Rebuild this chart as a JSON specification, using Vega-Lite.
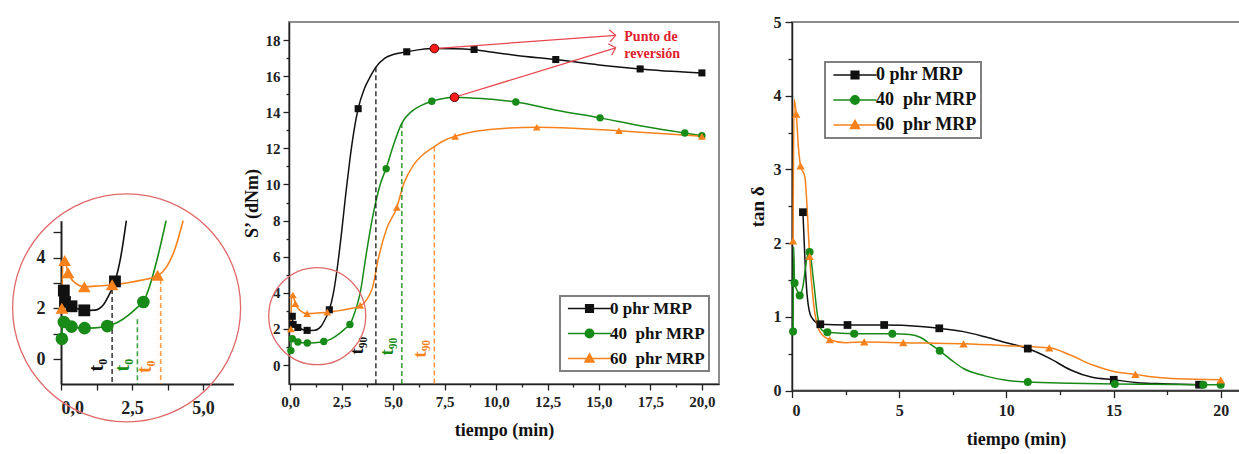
{
  "$schema": "https://vega.github.io/schema/vega-lite/v6.json",
  "background": "white",
  "padding": {"left": 10, "top": 13, "right": 0, "bottom": 0},
  "datasets": {
    "S": [
      {"t":0.03,"s":2.9,"serie":"0 phr MRP"},{"t":0.1,"s":2.7,"serie":"0 phr MRP"},{"t":0.14,"s":2.25,"serie":"0 phr MRP"},{"t":0.37,"s":2.08,"serie":"0 phr MRP"},{"t":0.6,"s":1.97,"serie":"0 phr MRP"},{"t":0.82,"s":1.92,"serie":"0 phr MRP"},{"t":1.2,"s":1.93,"serie":"0 phr MRP"},{"t":1.5,"s":2.15,"serie":"0 phr MRP"},{"t":1.7,"s":2.55,"serie":"0 phr MRP"},{"t":1.9,"s":3.06,"serie":"0 phr MRP"},{"t":2.1,"s":4.0,"serie":"0 phr MRP"},{"t":2.3,"s":5.5,"serie":"0 phr MRP"},{"t":2.5,"s":7.4,"serie":"0 phr MRP"},{"t":2.7,"s":9.5,"serie":"0 phr MRP"},{"t":2.9,"s":11.4,"serie":"0 phr MRP"},{"t":3.1,"s":13.0,"serie":"0 phr MRP"},{"t":3.3,"s":14.2,"serie":"0 phr MRP"},{"t":3.6,"s":15.3,"serie":"0 phr MRP"},{"t":3.9,"s":16.0,"serie":"0 phr MRP"},{"t":4.16,"s":16.5,"serie":"0 phr MRP"},{"t":4.6,"s":17.0,"serie":"0 phr MRP"},{"t":5.0,"s":17.2,"serie":"0 phr MRP"},{"t":5.66,"s":17.35,"serie":"0 phr MRP"},{"t":6.3,"s":17.47,"serie":"0 phr MRP"},{"t":7.0,"s":17.53,"serie":"0 phr MRP"},{"t":8.0,"s":17.52,"serie":"0 phr MRP"},{"t":8.93,"s":17.46,"serie":"0 phr MRP"},{"t":10,"s":17.3,"serie":"0 phr MRP"},{"t":11,"s":17.15,"serie":"0 phr MRP"},{"t":12.9,"s":16.92,"serie":"0 phr MRP"},{"t":15,"s":16.62,"serie":"0 phr MRP"},{"t":17,"s":16.4,"serie":"0 phr MRP"},{"t":18.5,"s":16.27,"serie":"0 phr MRP"},{"t":20,"s":16.18,"serie":"0 phr MRP"},
      {"t":0.03,"s":0.8,"serie":"40\u00a0 phr MRP"},{"t":0.06,"s":1.6,"serie":"40\u00a0 phr MRP"},{"t":0.1,"s":1.46,"serie":"40\u00a0 phr MRP"},{"t":0.37,"s":1.28,"serie":"40\u00a0 phr MRP"},{"t":0.6,"s":1.23,"serie":"40\u00a0 phr MRP"},{"t":0.83,"s":1.22,"serie":"40\u00a0 phr MRP"},{"t":1.2,"s":1.23,"serie":"40\u00a0 phr MRP"},{"t":1.63,"s":1.3,"serie":"40\u00a0 phr MRP"},{"t":2.0,"s":1.45,"serie":"40\u00a0 phr MRP"},{"t":2.4,"s":1.75,"serie":"40\u00a0 phr MRP"},{"t":2.7,"s":2.05,"serie":"40\u00a0 phr MRP"},{"t":2.9,"s":2.25,"serie":"40\u00a0 phr MRP"},{"t":3.1,"s":2.8,"serie":"40\u00a0 phr MRP"},{"t":3.4,"s":4.0,"serie":"40\u00a0 phr MRP"},{"t":3.7,"s":6.2,"serie":"40\u00a0 phr MRP"},{"t":3.97,"s":8.0,"serie":"40\u00a0 phr MRP"},{"t":4.37,"s":10.0,"serie":"40\u00a0 phr MRP"},{"t":4.66,"s":10.9,"serie":"40\u00a0 phr MRP"},{"t":5.02,"s":12.2,"serie":"40\u00a0 phr MRP"},{"t":5.42,"s":13.4,"serie":"40\u00a0 phr MRP"},{"t":5.9,"s":14.05,"serie":"40\u00a0 phr MRP"},{"t":6.4,"s":14.4,"serie":"40\u00a0 phr MRP"},{"t":6.88,"s":14.61,"serie":"40\u00a0 phr MRP"},{"t":7.5,"s":14.78,"serie":"40\u00a0 phr MRP"},{"t":7.98,"s":14.83,"serie":"40\u00a0 phr MRP"},{"t":9,"s":14.78,"serie":"40\u00a0 phr MRP"},{"t":10,"s":14.7,"serie":"40\u00a0 phr MRP"},{"t":10.96,"s":14.57,"serie":"40\u00a0 phr MRP"},{"t":13,"s":14.1,"serie":"40\u00a0 phr MRP"},{"t":15.05,"s":13.69,"serie":"40\u00a0 phr MRP"},{"t":17,"s":13.25,"serie":"40\u00a0 phr MRP"},{"t":19.17,"s":12.85,"serie":"40\u00a0 phr MRP"},{"t":20,"s":12.7,"serie":"40\u00a0 phr MRP"},
      {"t":0.03,"s":2.0,"serie":"60\u00a0 phr MRP"},{"t":0.07,"s":3.9,"serie":"60\u00a0 phr MRP"},{"t":0.13,"s":3.88,"serie":"60\u00a0 phr MRP"},{"t":0.25,"s":3.4,"serie":"60\u00a0 phr MRP"},{"t":0.5,"s":3.0,"serie":"60\u00a0 phr MRP"},{"t":0.82,"s":2.85,"serie":"60\u00a0 phr MRP"},{"t":1.3,"s":2.88,"serie":"60\u00a0 phr MRP"},{"t":1.8,"s":2.93,"serie":"60\u00a0 phr MRP"},{"t":2.3,"s":3.0,"serie":"60\u00a0 phr MRP"},{"t":2.8,"s":3.1,"serie":"60\u00a0 phr MRP"},{"t":3.4,"s":3.28,"serie":"60\u00a0 phr MRP"},{"t":3.7,"s":3.6,"serie":"60\u00a0 phr MRP"},{"t":4.0,"s":4.3,"serie":"60\u00a0 phr MRP"},{"t":4.3,"s":6.0,"serie":"60\u00a0 phr MRP"},{"t":4.7,"s":7.6,"serie":"60\u00a0 phr MRP"},{"t":5.18,"s":8.73,"serie":"60\u00a0 phr MRP"},{"t":5.5,"s":10.0,"serie":"60\u00a0 phr MRP"},{"t":6.0,"s":11.1,"serie":"60\u00a0 phr MRP"},{"t":6.5,"s":11.7,"serie":"60\u00a0 phr MRP"},{"t":7.0,"s":12.1,"serie":"60\u00a0 phr MRP"},{"t":7.5,"s":12.45,"serie":"60\u00a0 phr MRP"},{"t":8.01,"s":12.67,"serie":"60\u00a0 phr MRP"},{"t":9,"s":12.95,"serie":"60\u00a0 phr MRP"},{"t":10,"s":13.08,"serie":"60\u00a0 phr MRP"},{"t":11.98,"s":13.17,"serie":"60\u00a0 phr MRP"},{"t":14,"s":13.1,"serie":"60\u00a0 phr MRP"},{"t":15.97,"s":12.98,"serie":"60\u00a0 phr MRP"},{"t":18,"s":12.82,"serie":"60\u00a0 phr MRP"},{"t":20,"s":12.67,"serie":"60\u00a0 phr MRP"}
    ],
    "Sm": [
      {"t":0.1,"s":2.7,"serie":"0 phr MRP"},{"t":0.14,"s":2.25,"serie":"0 phr MRP"},{"t":0.37,"s":2.08,"serie":"0 phr MRP"},{"t":0.82,"s":1.92,"serie":"0 phr MRP"},{"t":1.9,"s":3.06,"serie":"0 phr MRP"},{"t":3.3,"s":14.2,"serie":"0 phr MRP"},{"t":5.66,"s":17.35,"serie":"0 phr MRP"},{"t":8.93,"s":17.48,"serie":"0 phr MRP"},{"t":12.9,"s":16.92,"serie":"0 phr MRP"},{"t":17,"s":16.4,"serie":"0 phr MRP"},{"t":20,"s":16.18,"serie":"0 phr MRP"},
      {"t":0.03,"s":0.8,"serie":"40\u00a0 phr MRP"},{"t":0.1,"s":1.46,"serie":"40\u00a0 phr MRP"},{"t":0.37,"s":1.28,"serie":"40\u00a0 phr MRP"},{"t":0.83,"s":1.22,"serie":"40\u00a0 phr MRP"},{"t":1.63,"s":1.3,"serie":"40\u00a0 phr MRP"},{"t":2.9,"s":2.25,"serie":"40\u00a0 phr MRP"},{"t":4.66,"s":10.87,"serie":"40\u00a0 phr MRP"},{"t":6.88,"s":14.61,"serie":"40\u00a0 phr MRP"},{"t":10.96,"s":14.57,"serie":"40\u00a0 phr MRP"},{"t":15.05,"s":13.69,"serie":"40\u00a0 phr MRP"},{"t":19.17,"s":12.85,"serie":"40\u00a0 phr MRP"},{"t":20,"s":12.7,"serie":"40\u00a0 phr MRP"},
      {"t":0.03,"s":2.0,"serie":"60\u00a0 phr MRP"},{"t":0.13,"s":3.88,"serie":"60\u00a0 phr MRP"},{"t":0.25,"s":3.4,"serie":"60\u00a0 phr MRP"},{"t":0.82,"s":2.85,"serie":"60\u00a0 phr MRP"},{"t":1.8,"s":2.93,"serie":"60\u00a0 phr MRP"},{"t":3.4,"s":3.3,"serie":"60\u00a0 phr MRP"},{"t":5.18,"s":8.73,"serie":"60\u00a0 phr MRP"},{"t":8.01,"s":12.67,"serie":"60\u00a0 phr MRP"},{"t":11.98,"s":13.17,"serie":"60\u00a0 phr MRP"},{"t":15.97,"s":12.98,"serie":"60\u00a0 phr MRP"},{"t":20,"s":12.67,"serie":"60\u00a0 phr MRP"}
    ],
    "rev": [{"t":7.0,"s":17.53},{"t":7.98,"s":14.83}],
    "arrows": [{"t":15.81,"s":18.26,"t2":7.0,"s2":17.53},{"t":15.81,"s":17.57,"t2":7.98,"s2":14.83}],
    "notes": [{"t":16.23,"s":17.94,"txt":"Punto de"},{"t":16.23,"s":16.98,"txt":"reversión"}],
    "t90": [{"t":4.16,"s":16.5,"serie":"0 phr MRP"},{"t":5.42,"s":13.4,"serie":"40\u00a0 phr MRP"},{"t":7.0,"s":12.1,"serie":"60\u00a0 phr MRP"}],
    "t90lab": [{"t":3.24,"s":1.07,"txt":"t₉₀","serie":"0 phr MRP"},{"t":4.69,"s":1.02,"txt":"t₉₀","serie":"40\u00a0 phr MRP"},{"t":6.3,"s":0.9,"txt":"t₉₀","serie":"60\u00a0 phr MRP"}],
    "t0": [{"t":1.8,"s":3.08,"serie":"0 phr MRP"},{"t":2.69,"s":1.57,"serie":"40\u00a0 phr MRP"},{"t":3.51,"s":3.15,"serie":"60\u00a0 phr MRP"}],
    "t0lab": [{"t":1.25,"s":-0.24,"txt":"t₀","serie":"0 phr MRP"},{"t":2.19,"s":-0.24,"txt":"t₀","serie":"40\u00a0 phr MRP"},{"t":2.97,"s":-0.3,"txt":"t₀","serie":"60\u00a0 phr MRP"}],
    "D": [
      {"t":0.51,"v":2.42,"serie":"0 phr MRP"},{"t":0.6,"v":1.8,"serie":"0 phr MRP"},{"t":0.72,"v":1.25,"serie":"0 phr MRP"},{"t":0.9,"v":1.0,"serie":"0 phr MRP"},{"t":1.32,"v":0.9,"serie":"0 phr MRP"},{"t":2.59,"v":0.89,"serie":"0 phr MRP"},{"t":4.3,"v":0.89,"serie":"0 phr MRP"},{"t":6.0,"v":0.87,"serie":"0 phr MRP"},{"t":6.87,"v":0.845,"serie":"0 phr MRP"},{"t":8,"v":0.8,"serie":"0 phr MRP"},{"t":9,"v":0.73,"serie":"0 phr MRP"},{"t":10,"v":0.65,"serie":"0 phr MRP"},{"t":11,"v":0.57,"serie":"0 phr MRP"},{"t":12,"v":0.44,"serie":"0 phr MRP"},{"t":13,"v":0.28,"serie":"0 phr MRP"},{"t":14,"v":0.18,"serie":"0 phr MRP"},{"t":15.01,"v":0.147,"serie":"0 phr MRP"},{"t":16,"v":0.11,"serie":"0 phr MRP"},{"t":17,"v":0.095,"serie":"0 phr MRP"},{"t":19,"v":0.08,"serie":"0 phr MRP"},{"t":19.2,"v":0.08,"serie":"0 phr MRP"},
      {"t":0.05,"v":0.8,"serie":"40\u00a0 phr MRP"},{"t":0.08,"v":1.95,"serie":"40\u00a0 phr MRP"},{"t":0.12,"v":1.46,"serie":"40\u00a0 phr MRP"},{"t":0.25,"v":1.35,"serie":"40\u00a0 phr MRP"},{"t":0.36,"v":1.29,"serie":"40\u00a0 phr MRP"},{"t":0.5,"v":1.4,"serie":"40\u00a0 phr MRP"},{"t":0.7,"v":1.8,"serie":"40\u00a0 phr MRP"},{"t":0.82,"v":1.88,"serie":"40\u00a0 phr MRP"},{"t":1.0,"v":1.5,"serie":"40\u00a0 phr MRP"},{"t":1.2,"v":1.0,"serie":"40\u00a0 phr MRP"},{"t":1.4,"v":0.82,"serie":"40\u00a0 phr MRP"},{"t":1.65,"v":0.79,"serie":"40\u00a0 phr MRP"},{"t":2.9,"v":0.77,"serie":"40\u00a0 phr MRP"},{"t":4.68,"v":0.77,"serie":"40\u00a0 phr MRP"},{"t":5.5,"v":0.76,"serie":"40\u00a0 phr MRP"},{"t":6.0,"v":0.72,"serie":"40\u00a0 phr MRP"},{"t":6.5,"v":0.62,"serie":"40\u00a0 phr MRP"},{"t":6.89,"v":0.54,"serie":"40\u00a0 phr MRP"},{"t":7.5,"v":0.4,"serie":"40\u00a0 phr MRP"},{"t":8,"v":0.3,"serie":"40\u00a0 phr MRP"},{"t":9,"v":0.2,"serie":"40\u00a0 phr MRP"},{"t":10,"v":0.14,"serie":"40\u00a0 phr MRP"},{"t":11,"v":0.115,"serie":"40\u00a0 phr MRP"},{"t":13,"v":0.1,"serie":"40\u00a0 phr MRP"},{"t":15.06,"v":0.09,"serie":"40\u00a0 phr MRP"},{"t":19.19,"v":0.08,"serie":"40\u00a0 phr MRP"},{"t":20,"v":0.08,"serie":"40\u00a0 phr MRP"},
      {"t":0.05,"v":2.03,"serie":"60\u00a0 phr MRP"},{"t":0.1,"v":3.95,"serie":"60\u00a0 phr MRP"},{"t":0.2,"v":3.75,"serie":"60\u00a0 phr MRP"},{"t":0.3,"v":3.3,"serie":"60\u00a0 phr MRP"},{"t":0.4,"v":3.05,"serie":"60\u00a0 phr MRP"},{"t":0.6,"v":2.9,"serie":"60\u00a0 phr MRP"},{"t":0.72,"v":2.4,"serie":"60\u00a0 phr MRP"},{"t":0.82,"v":1.82,"serie":"60\u00a0 phr MRP"},{"t":1.0,"v":1.2,"serie":"60\u00a0 phr MRP"},{"t":1.3,"v":0.8,"serie":"60\u00a0 phr MRP"},{"t":1.76,"v":0.69,"serie":"60\u00a0 phr MRP"},{"t":2.5,"v":0.65,"serie":"60\u00a0 phr MRP"},{"t":3.37,"v":0.66,"serie":"60\u00a0 phr MRP"},{"t":5.19,"v":0.65,"serie":"60\u00a0 phr MRP"},{"t":8.0,"v":0.635,"serie":"60\u00a0 phr MRP"},{"t":10,"v":0.61,"serie":"60\u00a0 phr MRP"},{"t":12,"v":0.58,"serie":"60\u00a0 phr MRP"},{"t":13,"v":0.48,"serie":"60\u00a0 phr MRP"},{"t":14,"v":0.35,"serie":"60\u00a0 phr MRP"},{"t":15,"v":0.26,"serie":"60\u00a0 phr MRP"},{"t":16.02,"v":0.22,"serie":"60\u00a0 phr MRP"},{"t":17,"v":0.18,"serie":"60\u00a0 phr MRP"},{"t":18,"v":0.16,"serie":"60\u00a0 phr MRP"},{"t":20,"v":0.147,"serie":"60\u00a0 phr MRP"}
    ],
    "Dm": [
      {"t":0.51,"v":2.42,"serie":"0 phr MRP"},{"t":1.32,"v":0.9,"serie":"0 phr MRP"},{"t":2.59,"v":0.89,"serie":"0 phr MRP"},{"t":4.3,"v":0.89,"serie":"0 phr MRP"},{"t":6.87,"v":0.845,"serie":"0 phr MRP"},{"t":11,"v":0.57,"serie":"0 phr MRP"},{"t":15.01,"v":0.147,"serie":"0 phr MRP"},{"t":18.99,"v":0.08,"serie":"0 phr MRP"},
      {"t":0.05,"v":0.8,"serie":"40\u00a0 phr MRP"},{"t":0.12,"v":1.46,"serie":"40\u00a0 phr MRP"},{"t":0.36,"v":1.29,"serie":"40\u00a0 phr MRP"},{"t":0.82,"v":1.88,"serie":"40\u00a0 phr MRP"},{"t":1.65,"v":0.79,"serie":"40\u00a0 phr MRP"},{"t":2.9,"v":0.77,"serie":"40\u00a0 phr MRP"},{"t":4.68,"v":0.77,"serie":"40\u00a0 phr MRP"},{"t":6.89,"v":0.54,"serie":"40\u00a0 phr MRP"},{"t":11,"v":0.115,"serie":"40\u00a0 phr MRP"},{"t":15.06,"v":0.09,"serie":"40\u00a0 phr MRP"},{"t":19.19,"v":0.08,"serie":"40\u00a0 phr MRP"},{"t":20,"v":0.08,"serie":"40\u00a0 phr MRP"},
      {"t":0.05,"v":2.03,"serie":"60\u00a0 phr MRP"},{"t":0.2,"v":3.75,"serie":"60\u00a0 phr MRP"},{"t":0.4,"v":3.05,"serie":"60\u00a0 phr MRP"},{"t":0.82,"v":1.82,"serie":"60\u00a0 phr MRP"},{"t":1.76,"v":0.69,"serie":"60\u00a0 phr MRP"},{"t":3.37,"v":0.66,"serie":"60\u00a0 phr MRP"},{"t":5.19,"v":0.65,"serie":"60\u00a0 phr MRP"},{"t":8,"v":0.635,"serie":"60\u00a0 phr MRP"},{"t":12,"v":0.58,"serie":"60\u00a0 phr MRP"},{"t":16.02,"v":0.22,"serie":"60\u00a0 phr MRP"},{"t":20,"v":0.147,"serie":"60\u00a0 phr MRP"}
    ]
  },
  "hconcat": [
    {
      "width": 154.7, "height": 362, "view": {"stroke": null},
      "encoding": {
        "x": {"field": "t", "type": "quantitative", "scale": {"domain": [0, 6.07], "range": [0, 172.4], "nice": false, "zero": false},
          "axis": {"title": null, "values": [0, 1.25, 2.5, 3.75, 5], "labelExpr": "datum.value % 2.5 === 0 ? replace(format(datum.value, '.1f'), '.', ',') : ''", "tickSize": 6, "labelFontSize": 18, "labelPadding": 9, "domainWidth": 2}},
        "y": {"field": "s", "type": "quantitative", "scale": {"domain": [-0.98, 5.45], "range": [362, 198.7], "clamp": true, "nice": false, "zero": false},
          "axis": {"title": null, "values": [0, 1, 2, 3, 4, 5], "labelExpr": "datum.value % 2 === 0 ? format(datum.value, 'd') : ''", "tickSize": 8, "labelFontSize": 18, "labelPadding": 8, "domainWidth": 2}}
      },
      "layer": [
        {"data": {"name": "S"}, "transform": [{"filter": "datum.s <= 6.5 && datum.t <= 6"}], "mark": {"type": "line", "interpolate": "monotone", "strokeWidth": 1.6},
          "encoding": {"color": {"field": "serie", "type": "nominal", "scale": {"domain": ["0 phr MRP", "40\u00a0 phr MRP", "60\u00a0 phr MRP"], "range": ["#111111", "#178a17", "#f7821b"]}, "legend": null}}},
        {"data": {"name": "t0"}, "mark": {"type": "rule", "strokeDash": [5, 3], "strokeWidth": 1.6, "opacity": 0.8},
          "encoding": {"y2": {"datum": -0.98}, "color": {"field": "serie", "type": "nominal", "legend": null}}},
        {"data": {"name": "Sm"}, "transform": [{"filter": "datum.s <= 5.5 && datum.t <= 6 && datum.serie == '0 phr MRP'"}], "mark": {"type": "square", "size": 140, "color": "#111111", "opacity": 1}},
        {"data": {"name": "Sm"}, "transform": [{"filter": "datum.s <= 5.5 && datum.t <= 6 && datum.serie == '40\u00a0 phr MRP'"}], "mark": {"type": "circle", "size": 160, "color": "#178a17", "opacity": 1}},
        {"data": {"name": "Sm"}, "transform": [{"filter": "datum.s <= 5.5 && datum.t <= 6 && datum.serie == '60\u00a0 phr MRP'"}], "mark": {"type": "point", "shape": "triangle-up", "filled": true, "size": 160, "color": "#f7821b", "opacity": 1}},
        {"data": {"name": "t0lab"}, "mark": {"type": "text", "angle": 270, "font": "Liberation Serif", "fontWeight": "bold", "fontSize": 20, "align": "center", "baseline": "middle"},
          "encoding": {"text": {"field": "txt"}, "color": {"field": "serie", "type": "nominal", "legend": null}}},
        {"data": {"values": [{"t": 2.31, "s": 2.02}]}, "mark": {"type": "point", "shape": "circle", "filled": false, "stroke": "#e06a6a", "strokeWidth": 1.3, "size": 51984, "opacity": 1}}
      ]
    },
    {
      "width": 430, "height": 362,
      "encoding": {
        "x": {"field": "t", "type": "quantitative", "scale": {"domain": [-0.06, 20.83], "nice": false, "zero": false},
          "axis": {"title": "tiempo (min)", "values": [0, 1.25, 2.5, 3.75, 5, 6.25, 7.5, 8.75, 10, 11.25, 12.5, 13.75, 15, 16.25, 17.5, 18.75, 20], "labelExpr": "datum.value % 2.5 === 0 ? replace(format(datum.value, '.1f'), '.', ',') : ''", "tickSize": {"condition": {"test": "datum.value % 2.5 !== 0", "value": 3}, "value": 6}, "labelFontSize": 15, "labelPadding": 4, "titleFontSize": 18, "titlePadding": 12}},
        "y": {"field": "s", "type": "quantitative", "scale": {"domain": [-1.05, 19], "nice": false, "zero": false},
          "axis": {"title": "S’ (dNm)", "values": [0, 1, 2, 3, 4, 5, 6, 7, 8, 9, 10, 11, 12, 13, 14, 15, 16, 17, 18], "labelExpr": "datum.value % 2 === 0 ? format(datum.value, 'd') : ''", "tickSize": {"condition": {"test": "datum.value % 2 !== 0", "value": 3}, "value": 6}, "labelFontSize": 15, "labelPadding": 3, "titleFontSize": 18, "titlePadding": 4}}
      },
      "layer": [
        {"data": {"name": "S"}, "mark": {"type": "line", "interpolate": "monotone", "strokeWidth": 1.5},
          "encoding": {"color": {"field": "serie", "type": "nominal", "scale": {"domain": ["0 phr MRP", "40\u00a0 phr MRP", "60\u00a0 phr MRP"], "range": ["#111111", "#178a17", "#f7821b"]},
            "legend": {"title": null, "orient": "none", "legendX": 271, "legendY": 274, "direction": "vertical", "padding": 4, "strokeColor": "#808080", "fillColor": "white",
              "labelFont": "Liberation Serif", "labelFontWeight": "bold", "labelFontSize": 17, "labelColor": "#111111", "labelLimit": 400,
              "symbolSize": 81, "symbolStrokeWidth": 1.5, "symbolOffset": 17, "labelOffset": 12, "rowPadding": 7,
              "encoding": {
                "symbols": {
                  "shape": {"condition": [{"test": "datum.value == '40\u00a0 phr MRP'", "value": "M-4.8,0H4.8M0.95,0A0.95,0.95 0 1,1 -0.95,0A0.95,0.95 0 1,1 0.95,0Z"}, {"test": "datum.value == '60\u00a0 phr MRP'", "value": "M-4.8,0H4.8M0,-1.05L1,0.75H-1Z"}], "value": "M-4.8,0H4.8M-0.85,-0.85H0.85V0.85H-0.85Z"},
                  "fill": {"condition": [{"test": "datum.value == '40\u00a0 phr MRP'", "value": "#178a17"}, {"test": "datum.value == '60\u00a0 phr MRP'", "value": "#f7821b"}], "value": "#111111"},
                  "stroke": {"condition": [{"test": "datum.value == '40\u00a0 phr MRP'", "value": "#178a17"}, {"test": "datum.value == '60\u00a0 phr MRP'", "value": "#f7821b"}], "value": "#111111"}
                },
                "legend": {"strokeWidth": {"value": 2}}
              }}}}},
        {"data": {"name": "t90"}, "mark": {"type": "rule", "strokeDash": [5, 3], "strokeWidth": 1.6, "opacity": 0.8},
          "encoding": {"y2": {"datum": -1.05}, "color": {"field": "serie", "type": "nominal", "legend": null}}},
        {"data": {"name": "Sm"}, "transform": [{"filter": "datum.serie == '0 phr MRP'"}], "mark": {"type": "square", "size": 50, "color": "#111111", "opacity": 1}},
        {"data": {"name": "Sm"}, "transform": [{"filter": "datum.serie == '40\u00a0 phr MRP'"}], "mark": {"type": "circle", "size": 55, "color": "#178a17", "opacity": 1}},
        {"data": {"name": "Sm"}, "transform": [{"filter": "datum.serie == '60\u00a0 phr MRP'"}], "mark": {"type": "point", "shape": "triangle-up", "filled": true, "size": 60, "color": "#f7821b", "opacity": 1}},
        {"data": {"name": "arrows"}, "mark": {"type": "rule", "color": "#e8474f", "strokeWidth": 1.2},
          "encoding": {"x2": {"field": "t2"}, "y2": {"field": "s2"}}},
        {"data": {"name": "arrows"}, "transform": [{"filter": "datum.s > 18"}], "mark": {"type": "point", "shape": "M-1,-1L0,0L-1,1", "filled": false, "stroke": "#e8474f", "strokeWidth": 1.2, "size": 144, "angle": 356, "opacity": 1}},
        {"data": {"name": "arrows"}, "transform": [{"filter": "datum.s < 18"}], "mark": {"type": "point", "shape": "M-1,-1L0,0L-1,1", "filled": false, "stroke": "#e8474f", "strokeWidth": 1.2, "size": 144, "angle": 343, "opacity": 1}},
        {"data": {"name": "rev"}, "mark": {"type": "point", "shape": "circle", "filled": true, "fill": "#ff1a1a", "stroke": "#5a0000", "strokeWidth": 1, "size": 75, "opacity": 1}},
        {"data": {"name": "notes"}, "mark": {"type": "text", "align": "left", "baseline": "alphabetic", "font": "Liberation Serif", "fontWeight": "bold", "fontSize": 14, "color": "#e0202a"},
          "encoding": {"text": {"field": "txt"}}},
        {"data": {"name": "t90lab"}, "mark": {"type": "text", "angle": 270, "font": "Liberation Serif", "fontWeight": "bold", "fontSize": 19, "align": "center", "baseline": "middle"},
          "encoding": {"text": {"field": "txt"}, "color": {"field": "serie", "type": "nominal", "legend": null}}},
        {"data": {"values": [{"t": 1.31, "s": 2.71}]}, "mark": {"type": "point", "shape": "circle", "filled": false, "stroke": "#e06a6a", "strokeWidth": 1.3, "size": 9409, "opacity": 1}}
      ]
    },
    {
      "width": 448, "height": 368.6,
      "encoding": {
        "x": {"field": "t", "type": "quantitative", "scale": {"domain": [0, 20.9], "nice": false, "zero": false},
          "axis": {"title": "tiempo (min)", "values": [0, 2.5, 5, 7.5, 10, 12.5, 15, 17.5, 20], "labelExpr": "datum.value % 5 === 0 ? format(datum.value, 'd') : ''", "tickSize": {"condition": {"test": "datum.value % 5 !== 0", "value": 4}, "value": 7}, "labelFontSize": 16, "labelPadding": 5, "titleFontSize": 18, "titlePadding": 12}},
        "y": {"field": "v", "type": "quantitative", "scale": {"domain": [0, 5], "nice": false, "zero": false},
          "axis": {"title": "tan δ", "values": [0, 0.5, 1, 1.5, 2, 2.5, 3, 3.5, 4, 4.5, 5], "labelExpr": "datum.value % 1 === 0 ? format(datum.value, 'd') : ''", "tickSize": {"condition": {"test": "datum.value % 1 !== 0", "value": 4}, "value": 7}, "labelFontSize": 16, "labelPadding": 4, "titleFontSize": 19, "titlePadding": 6}}
      },
      "layer": [
        {"data": {"name": "D"}, "mark": {"type": "line", "interpolate": "monotone", "strokeWidth": 1.5},
          "encoding": {"color": {"field": "serie", "type": "nominal", "scale": {"domain": ["0 phr MRP", "40\u00a0 phr MRP", "60\u00a0 phr MRP"], "range": ["#111111", "#178a17", "#f7821b"]},
            "legend": {"title": null, "orient": "none", "legendX": 33, "legendY": 40, "direction": "vertical", "padding": 4, "strokeColor": "#808080", "fillColor": "white",
              "labelFont": "Liberation Serif", "labelFontWeight": "bold", "labelFontSize": 18, "labelColor": "#111111", "labelLimit": 400,
              "symbolSize": 81, "symbolStrokeWidth": 1.5, "symbolOffset": 17, "labelOffset": 12, "rowPadding": 7,
              "encoding": {
                "symbols": {
                  "shape": {"condition": [{"test": "datum.value == '40\u00a0 phr MRP'", "value": "M-4.8,0H4.8M0.95,0A0.95,0.95 0 1,1 -0.95,0A0.95,0.95 0 1,1 0.95,0Z"}, {"test": "datum.value == '60\u00a0 phr MRP'", "value": "M-4.8,0H4.8M0,-1.05L1,0.75H-1Z"}], "value": "M-4.8,0H4.8M-0.85,-0.85H0.85V0.85H-0.85Z"},
                  "fill": {"condition": [{"test": "datum.value == '40\u00a0 phr MRP'", "value": "#178a17"}, {"test": "datum.value == '60\u00a0 phr MRP'", "value": "#f7821b"}], "value": "#111111"},
                  "stroke": {"condition": [{"test": "datum.value == '40\u00a0 phr MRP'", "value": "#178a17"}, {"test": "datum.value == '60\u00a0 phr MRP'", "value": "#f7821b"}], "value": "#111111"}
                },
                "legend": {"strokeWidth": {"value": 2}}
              }}}}},
        {"data": {"name": "Dm"}, "transform": [{"filter": "datum.serie == '0 phr MRP'"}], "mark": {"type": "square", "size": 60, "color": "#111111", "opacity": 1}},
        {"data": {"name": "Dm"}, "transform": [{"filter": "datum.serie == '40\u00a0 phr MRP'"}], "mark": {"type": "circle", "size": 64, "color": "#178a17", "opacity": 1}},
        {"data": {"name": "Dm"}, "transform": [{"filter": "datum.serie == '60\u00a0 phr MRP'"}], "mark": {"type": "point", "shape": "triangle-up", "filled": true, "size": 70, "color": "#f7821b", "opacity": 1}}
      ]
    }
  ],
  "spacing": 73,
  "bounds": "flush",
  "resolve": {"scale": {"color": "independent"}, "legend": {"color": "independent"}},
  "config": {
    "font": "Liberation Serif",
    "view": {"stroke": "#8c8c8c", "strokeWidth": 2},
    "axis": {"grid": false, "domainColor": "#222222", "domainWidth": 1.5, "tickColor": "#222222", "tickWidth": 1.3, "labelFont": "Liberation Serif", "labelFontWeight": "bold", "labelColor": "#222222", "titleFont": "Liberation Serif", "titleFontWeight": "bold", "titleColor": "#111111"}
  }
}
